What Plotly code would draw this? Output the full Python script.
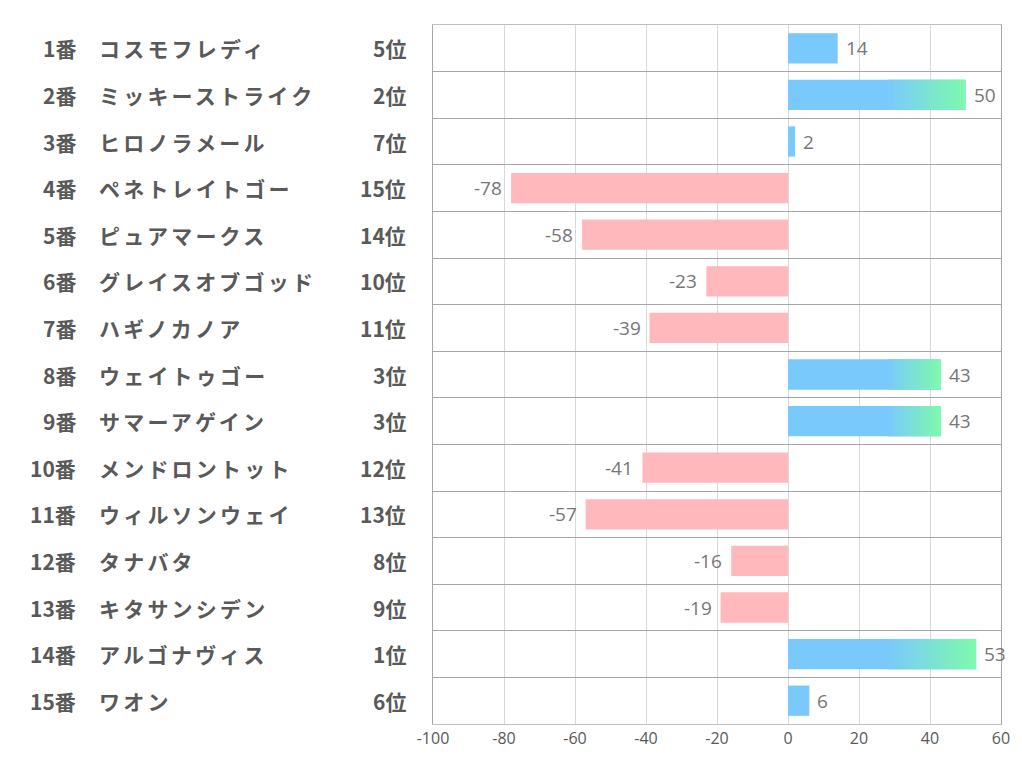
import plotly.graph_objects as go

numbers = ["1番", "2番", "3番", "4番", "5番", "6番", "7番", "8番", "9番", "10番",
           "11番", "12番", "13番", "14番", "15番"]
names = ["コスモフレディ", "ミッキーストライク", "ヒロノラメール", "ペネトレイトゴー",
         "ピュアマークス", "グレイスオブゴッド", "ハギノカノア", "ウェイトゥゴー",
         "サマーアゲイン", "メンドロントット", "ウィルソンウェイ", "タナバタ",
         "キタサンシデン", "アルゴナヴィス", "ワオン"]
ranks = ["5位", "2位", "7位", "15位", "14位", "10位", "11位", "3位", "3位", "12位",
         "13位", "8位", "9位", "1位", "6位"]
values = [14, 50, 2, -78, -58, -23, -39, 43, 43, -41, -57, -16, -19, 53, 6]
x_ticks = [-100, -80, -60, -40, -20, 0, 20, 40, 60]

BLUE = (122, 201, 253)
GREEN = (126, 250, 172)
PINK = "rgb(255,185,188)"
GRAD_START = 28
N_STEPS = 40
BAR_W = 0.65

idx = list(range(len(values)))
fig = go.Figure()

# negative bars
neg_y = [i for i, v in zip(idx, values) if v < 0]
neg_x = [v for v in values if v < 0]
fig.add_trace(go.Bar(x=neg_x, y=neg_y, orientation="h", width=BAR_W,
                     marker=dict(color=PINK, line=dict(width=0)),
                     hoverinfo="skip", showlegend=False))

# positive bars: full-length blue underneath
pos_y = [i for i, v in zip(idx, values) if v > 0]
pos_x = [v for v in values if v > 0]
fig.add_trace(go.Bar(x=pos_x, y=pos_y, base=[0] * len(pos_x), orientation="h", width=BAR_W,
                     marker=dict(color="rgb(%d,%d,%d)" % BLUE, line=dict(width=0)),
                     hoverinfo="skip", showlegend=False))

# gradient overlay on long bars
grad_y = [i for i, v in zip(idx, values) if v > GRAD_START]
grad_v = [v for v in values if v > GRAD_START]
for k in range(N_STEPS):
    t = (k + 0.5) / N_STEPS
    col = tuple(int(round(BLUE[c] + (GREEN[c] - BLUE[c]) * t)) for c in range(3))
    widths = [(v - GRAD_START) / N_STEPS for v in grad_v]
    bases = [GRAD_START + k * w for w in widths]
    seg = [w * (1.6 if k < N_STEPS - 1 else 1.0) for w in widths]
    fig.add_trace(go.Bar(x=seg, y=grad_y, base=bases, orientation="h",
                         width=BAR_W,
                         marker=dict(color="rgb(%d,%d,%d)" % col, line=dict(width=0)),
                         hoverinfo="skip", showlegend=False))

annotations = []
# value labels
for i, v in zip(idx, values):
    annotations.append(dict(x=v, y=i, xref="x", yref="y", text=str(v),
                            xanchor="left" if v >= 0 else "right", yanchor="middle",
                            xshift=6 if v >= 0 else -7, showarrow=False,
                            font=dict(family="Open Sans, sans-serif", size=19, color="#767676")))

label_font = dict(family="Noto Sans CJK JP", size=21, color="#595959")
PLOT_W = 1022 - 433 - 13
for i in idx:
    annotations.append(dict(x=(73 - 433) / PLOT_W, y=i, xref="paper", yref="y",
                            text="<b>%s</b>" % numbers[i],
                            xanchor="right", yanchor="middle", showarrow=False, font=label_font))
    annotations.append(dict(x=(92 - 433) / PLOT_W, y=i, xref="paper", yref="y",
                            text="<b>%s</b>" % names[i],
                            xanchor="left", yanchor="middle", showarrow=False, font=label_font))
    annotations.append(dict(x=(408 - 433) / PLOT_W, y=i, xref="paper", yref="y",
                            text="<b>%s</b>" % ranks[i],
                            xanchor="right", yanchor="middle", showarrow=False, font=label_font))

fig.update_layout(
    width=1022, height=780,
    margin=dict(l=433, r=13, t=25, b=56),
    paper_bgcolor="white", plot_bgcolor="white",
    barmode="overlay",
    annotations=annotations,
    xaxis=dict(range=[-100, 60], tickvals=x_ticks, ticktext=[str(t) for t in x_ticks],
               showgrid=True, gridcolor="#d9d9d9", gridwidth=1, zeroline=False,
               showline=True, linecolor="#bfbfbf", mirror=True,
               ticks="", ticklen=0,
               tickfont=dict(family="Open Sans, sans-serif", size=16, color="#595959")),
    yaxis=dict(range=[14.5, -0.5], tickmode="linear", tick0=0.5, dtick=1,
               showgrid=True, gridcolor="#a6a6a6", gridwidth=1, zeroline=False,
               showticklabels=False, showline=True, linecolor="#a6a6a6", mirror=True),
)

# page without body margin; widen character spacing of the horse names (left edge fixed)
names_js = "[" + ",".join('"%s"' % n for n in names) + "]"
post_js = """
document.body.style.margin = '0';
document.body.style.overflow = 'hidden';
var gd = document.getElementById('{plot_id}');
var nm = %s;
gd.querySelectorAll('.annotation-text').forEach(function(el){
  if (nm.indexOf(el.textContent) >= 0) {
    var b0 = el.getBBox();
    el.style.letterSpacing = '3.2px';
    var b1 = el.getBBox();
    var x0 = parseFloat(el.getAttribute('x') || '0');
    el.setAttribute('x', x0 + (b0.x - b1.x));
  }
});
""" % names_js

fig.write_html("out.html", post_script=post_js, config={"displayModeBar": False})
